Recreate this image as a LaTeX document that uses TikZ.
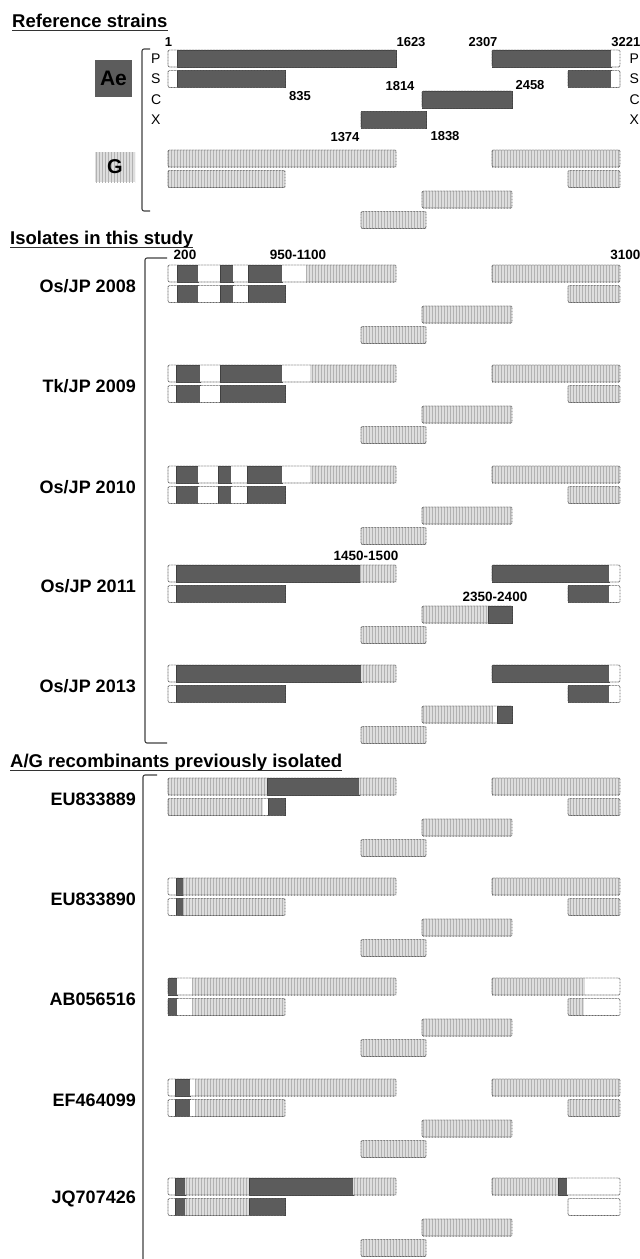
\documentclass[tikz,border=0pt]{standalone}
\usepackage{fontspec}
\setmainfont{Liberation Sans}
\usetikzlibrary{patterns}
\definecolor{dkfill}{gray}{0.36}
\definecolor{ltfill}{gray}{0.87}
\tikzset{
 dk/.style={fill=dkfill, draw=black!75, line width=0.5pt},
 lt/.style={fill=ltfill, postaction={pattern=vertical lines, pattern color=black!30}},
 wt/.style={fill=white},
 outl/.style={draw=black!60, line width=0.8pt, dash pattern=on 0.9pt off 0.6pt, rounded corners=1.2pt},
 brk/.style={draw=black!75, line width=1.1pt, rounded corners=2pt},
 head/.style={inner sep=0pt, anchor=base west, font=\fontsize{18.5}{20}\selectfont\bfseries},
 strain/.style={inner sep=0pt, anchor=east, font=\fontsize{18}{20}\selectfont\bfseries},
 num/.style={inner sep=0pt, font=\fontsize{13}{14}\selectfont\bfseries},
 rnum/.style={inner sep=0pt, font=\fontsize{13.5}{14}\selectfont\bfseries},
 rowlab/.style={inner sep=0pt, anchor=west, font=\fontsize{14}{15}\selectfont},
 uline/.style={draw=black!80, line width=1pt},
}
\newcommand\gbar[4]{%
 \foreach \s/\a/\b in {#4} {\path[\s] (\a,#1) rectangle (\b,#1+17);}
 \draw[outl] (#2,#1) rectangle (#3,#1+17);}
\newcommand\Pleft[1]{\gbar{0}{168}{396}{#1}}
\newcommand\Sleft[1]{\gbar{20.5}{168}{285}{#1}}
\newcommand\Pright[1]{\gbar{0}{492}{620}{#1}}
\newcommand\Sright[1]{\gbar{20.5}{568}{620}{#1}}
\newcommand\Cbar[1]{\gbar{41}{422}{512}{#1}}
\newcommand\Xbar[1]{\gbar{61.5}{361}{426}{#1}}
\newcommand\Gtail{\Pright{lt/492/620}\Sright{lt/568/620}\Cbar{lt/422/512}\Xbar{lt/361/426}}
\begin{document}
\begin{tikzpicture}[x=1pt,y=-1pt]
\useasboundingbox (0,0) rectangle (640,1259);
% headings
\node[head] (h1) at (12,27) {Reference strains};
\draw[uline] ([yshift=-3pt]h1.base west) -- ([yshift=-3pt]h1.base east);
\node[head] (h2) at (10,244) {Isolates in this study};
\draw[uline] ([yshift=-3pt]h2.base west) -- ([yshift=-3pt]h2.base east);
\node[head] (h3) at (10,767) {A/G recombinants previously isolated};
\draw[uline] ([yshift=-3pt]h3.base west) -- ([yshift=-3pt]h3.base east);
% brackets
\draw[brk] (150,49) -- (142,49) -- (142,211) -- (150,211);
\draw[brk] (167,258) -- (145,258) -- (145,743) -- (167,743);
\draw[brk] (157,775) -- (143,775) -- (143,1262);
% genotype boxes
\node[fill=dkfill, minimum width=37pt, minimum height=37pt, inner sep=0pt, font=\fontsize{21}{22}\selectfont\bfseries] (ae) at (113.5,78.5) {Ae};
\node[fill=ltfill, postaction={pattern=vertical lines, pattern color=black!30}, minimum width=40pt, minimum height=30pt, inner sep=0pt] (gbox) at (115,167) {};
\node[font=\fontsize{20}{22}\selectfont\bfseries, inner sep=0pt] (glab) at (115,167) {G};
% row labels
\node[rowlab] (lp) at (151,58.5) {P};
\node[rowlab] (ls) at (151,79) {S};
\node[rowlab] (lc) at (151,99.5) {C};
\node[rowlab] (lx) at (151,120) {X};
\node[rowlab] (rp) at (629.5,58.5) {P};
\node[rowlab] (rs) at (629.5,79) {S};
\node[rowlab] (rc) at (629.5,99.5) {C};
\node[rowlab] (rx) at (629.5,120) {X};
% reference Ae
\begin{scope}[shift={(0,50)}]
\Pleft{wt/168/177, dk/177/396}
\Sleft{wt/168/177, dk/177/285}
\Pright{dk/492/611, wt/611/620}
\Sright{dk/568/611, wt/611/620}
\Cbar{dk/422/512}
\Xbar{dk/361/426}
\end{scope}
% reference G
\begin{scope}[shift={(0,150)}]
\Pleft{lt/168/396}
\Sleft{lt/168/285}
\Gtail
\end{scope}
% numbers
\node[num] (n1) at (168.5,42) {1};
\node[num] (n1623) at (411,42) {1623};
\node[num] (n2307) at (483,42) {2307};
\node[num, anchor=east] (n3221) at (640.5,42) {3221};
\node[num] (n835) at (300,96) {835};
\node[num] (n1814) at (400,86) {1814};
\node[num] (n2458) at (530,85) {2458};
\node[num] (n1374) at (345,137) {1374};
\node[num] (n1838) at (445,136) {1838};
\node[rnum] (n200) at (185,255) {200};
\node[rnum] (n950) at (298,255) {950-1100};
\node[rnum, anchor=east] (n3100) at (640.5,255) {3100};
\node[rnum] (n1450) at (366,556) {1450-1500};
\node[rnum] (n2350) at (495,597) {2350-2400};
% Os/JP 2008
\begin{scope}[shift={(0,265)}]
\node[strain] (s1) at (136,21) {Os/JP 2008};
\Pleft{wt/168/177, dk/177/198, wt/198/220, dk/220/233, wt/233/248, dk/248/282, wt/282/306, lt/306/396}
\Sleft{wt/168/177, dk/177/198, wt/198/220, dk/220/233, wt/233/248, dk/248/285}
\Gtail
\end{scope}
% Tk/JP 2009
\begin{scope}[shift={(0,365)}]
\node[strain] (s2) at (136,21) {Tk/JP 2009};
\Pleft{wt/168/176, dk/176/200, wt/200/220, dk/220/282, wt/282/310, lt/310/396}
\Sleft{wt/168/176, dk/176/200, wt/200/220, dk/220/285}
\Gtail
\end{scope}
% Os/JP 2010
\begin{scope}[shift={(0,466)}]
\node[strain] (s3) at (136,21) {Os/JP 2010};
\Pleft{wt/168/176, dk/176/198, wt/198/218, dk/218/231, wt/231/247, dk/247/282, wt/282/310, lt/310/396}
\Sleft{wt/168/176, dk/176/198, wt/198/218, dk/218/231, wt/231/247, dk/247/285}
\Gtail
\end{scope}
% Os/JP 2011
\begin{scope}[shift={(0,565)}]
\node[strain] (s4) at (136,21) {Os/JP 2011};
\Pleft{wt/168/176, dk/176/360, lt/360/396}
\Sleft{wt/168/176, dk/176/285}
\Pright{dk/492/609, wt/609/620}
\Sright{dk/568/609, wt/609/620}
\Cbar{lt/422/488, dk/488/512}
\Xbar{lt/361/426}
\end{scope}
% Os/JP 2013
\begin{scope}[shift={(0,665)}]
\node[strain] (s5) at (136,21) {Os/JP 2013};
\Pleft{wt/168/176, dk/176/361, lt/361/396}
\Sleft{wt/168/176, dk/176/285}
\Pright{dk/492/609, wt/609/620}
\Sright{dk/568/609, wt/609/620}
\Cbar{lt/422/493, wt/493/497, dk/497/512}
\Xbar{lt/361/426}
\end{scope}
% EU833889
\begin{scope}[shift={(0,778)}]
\node[strain] (s6) at (136,21) {EU833889};
\Pleft{lt/168/267, dk/267/359, lt/359/396}
\Sleft{lt/168/263, wt/263/268, dk/268/285}
\Gtail
\end{scope}
% EU833890
\begin{scope}[shift={(0,878)}]
\node[strain] (s7) at (136,21) {EU833890};
\Pleft{wt/168/176, dk/176/183, lt/183/396}
\Sleft{wt/168/176, dk/176/183, lt/183/285}
\Gtail
\end{scope}
% AB056516
\begin{scope}[shift={(0,978)}]
\node[strain] (s8) at (136,21) {AB056516};
\Pleft{dk/168/177, wt/177/192, lt/192/396}
\Sleft{dk/168/177, wt/177/192, lt/192/285}
\Pright{lt/492/585, wt/585/620}
\Sright{lt/568/584, wt/584/620}
\Cbar{lt/422/512}
\Xbar{lt/361/426}
\end{scope}
% EF464099
\begin{scope}[shift={(0,1079)}]
\node[strain] (s9) at (136,21) {EF464099};
\Pleft{wt/168/175, dk/175/190, wt/190/195, lt/195/396}
\Sleft{wt/168/175, dk/175/190, wt/190/195, lt/195/285}
\Gtail
\end{scope}
% JQ707426
\begin{scope}[shift={(0,1178)}]
\node[strain] (s10) at (136,21) {JQ707426};
\Pleft{wt/168/175, dk/175/185, lt/185/249, dk/249/353, lt/353/396}
\Sleft{wt/168/175, dk/175/185, lt/185/249, dk/249/285}
\Pright{lt/492/558, dk/558/567, wt/567/620}
\Sright{wt/568/620}
\Cbar{lt/422/512}
\Xbar{lt/361/426}
\end{scope}
\end{tikzpicture}
\end{document}
